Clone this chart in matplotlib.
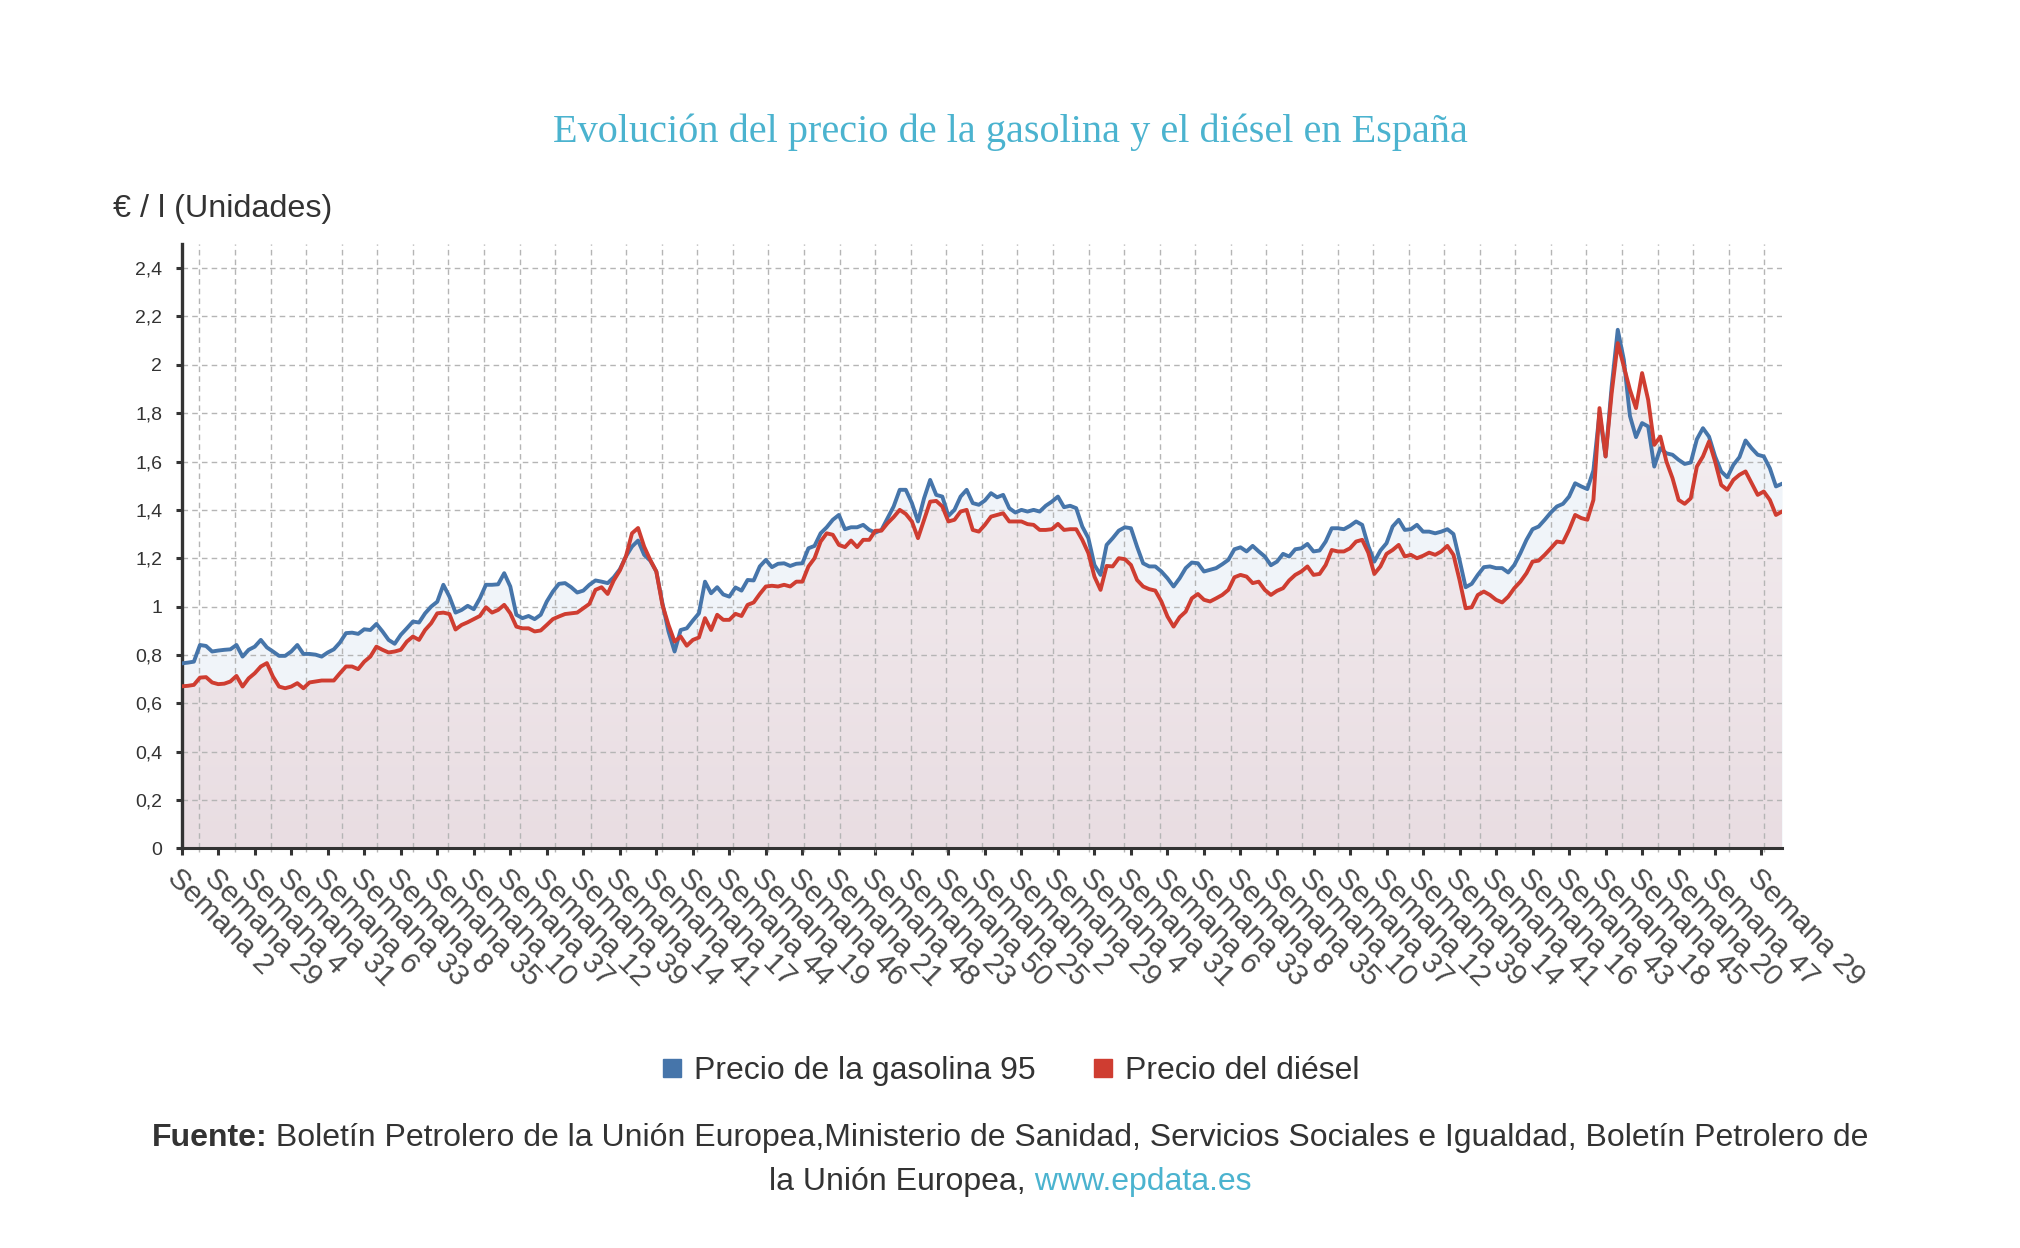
import numpy as np
import matplotlib
matplotlib.use('Agg')
import matplotlib.pyplot as plt
from matplotlib.colors import LinearSegmentedColormap
from matplotlib.lines import Line2D

# precios semanales (€/l), leidos cada 4,5 semanas
gasolina = [
    0.765, 0.768, 0.772, 0.841, 0.837, 0.814, 0.818, 0.821, 0.823, 0.841, 0.793, 0.821,
    0.834, 0.862, 0.831, 0.814, 0.796, 0.796, 0.814, 0.841, 0.804, 0.804, 0.801, 0.793,
    0.81, 0.823, 0.851, 0.89, 0.892, 0.887, 0.906, 0.903, 0.928, 0.897, 0.862, 0.846,
    0.883, 0.91, 0.938, 0.934, 0.972, 1.0, 1.02, 1.09, 1.041, 0.975, 0.986, 1.003,
    0.989, 1.034, 1.09, 1.09, 1.092, 1.138, 1.083, 0.966, 0.952, 0.961, 0.948, 0.966,
    1.021, 1.062, 1.094, 1.097, 1.08, 1.058, 1.066, 1.09, 1.108, 1.103, 1.097, 1.121,
    1.154, 1.207, 1.248, 1.273, 1.214, 1.19, 1.145, 1.014, 0.897, 0.814, 0.903, 0.91,
    0.942, 0.972, 1.103, 1.055, 1.08, 1.05, 1.041, 1.079, 1.066, 1.11, 1.108, 1.166,
    1.193, 1.163, 1.177, 1.179, 1.168, 1.177, 1.179, 1.241, 1.251, 1.303, 1.328, 1.359,
    1.379, 1.32, 1.328, 1.328, 1.338, 1.317, 1.306, 1.317, 1.366, 1.414, 1.483, 1.483,
    1.428, 1.352, 1.448, 1.524, 1.462, 1.455, 1.375, 1.4, 1.455, 1.483, 1.428, 1.421,
    1.439, 1.469, 1.452, 1.462, 1.407, 1.389, 1.4, 1.393, 1.4, 1.393, 1.417, 1.434,
    1.455, 1.411, 1.417, 1.407, 1.331, 1.283, 1.172, 1.131, 1.255, 1.283, 1.314, 1.328,
    1.324, 1.248, 1.179, 1.166, 1.166, 1.145, 1.117, 1.083, 1.117, 1.159, 1.182, 1.179,
    1.145, 1.152, 1.159, 1.175, 1.193, 1.237, 1.245, 1.228, 1.251, 1.228, 1.207, 1.171,
    1.186, 1.218, 1.207, 1.237, 1.241, 1.259, 1.228, 1.232, 1.269, 1.324, 1.324, 1.32,
    1.334, 1.352, 1.338, 1.251, 1.186, 1.232, 1.262, 1.331, 1.359, 1.317, 1.32, 1.338,
    1.31, 1.31, 1.303, 1.31, 1.32, 1.3, 1.193, 1.08, 1.094, 1.131, 1.163, 1.166,
    1.159, 1.159, 1.141, 1.172, 1.221, 1.276, 1.32, 1.331, 1.359, 1.389, 1.414, 1.425,
    1.455, 1.51, 1.497, 1.486, 1.563, 1.8, 1.621, 1.91, 2.145, 2.021, 1.789, 1.701,
    1.759, 1.745, 1.579, 1.655, 1.634, 1.628, 1.607, 1.59, 1.596, 1.692, 1.738, 1.703,
    1.621, 1.559, 1.535, 1.586, 1.618, 1.687, 1.655, 1.628, 1.621, 1.572, 1.497, 1.508,
]

diesel = [
    0.67, 0.672, 0.676, 0.706, 0.708, 0.686, 0.679, 0.681, 0.69, 0.713, 0.669, 0.703,
    0.724, 0.752, 0.766, 0.71, 0.669, 0.662, 0.669, 0.683, 0.662, 0.686, 0.69, 0.694,
    0.694, 0.694, 0.724, 0.752, 0.752, 0.741, 0.772, 0.793, 0.834, 0.821, 0.81, 0.814,
    0.821, 0.855, 0.876, 0.862, 0.903, 0.931, 0.972, 0.975, 0.969, 0.905, 0.924, 0.935,
    0.948, 0.961, 0.997, 0.975, 0.986, 1.007, 0.972, 0.917, 0.91, 0.91, 0.897, 0.901,
    0.924, 0.948, 0.959, 0.969, 0.972, 0.975, 0.993, 1.011, 1.069, 1.08, 1.052, 1.108,
    1.149, 1.207, 1.303, 1.325, 1.248, 1.193, 1.145, 1.007, 0.924, 0.855, 0.876, 0.838,
    0.862, 0.872, 0.952, 0.903, 0.966, 0.945, 0.945, 0.97, 0.961, 1.007, 1.017, 1.052,
    1.083, 1.086, 1.083, 1.09, 1.083, 1.103, 1.103, 1.166, 1.2, 1.269, 1.303, 1.297,
    1.255, 1.246, 1.273, 1.246, 1.276, 1.276, 1.314, 1.314, 1.345, 1.37, 1.4, 1.383,
    1.352, 1.283, 1.359, 1.434, 1.437, 1.414, 1.352, 1.359, 1.393, 1.4, 1.317, 1.31,
    1.338, 1.372, 1.379, 1.386, 1.352, 1.352, 1.352, 1.341, 1.338, 1.317, 1.317, 1.32,
    1.342, 1.317, 1.32, 1.32, 1.276, 1.221, 1.124, 1.069, 1.168, 1.166, 1.2, 1.196,
    1.172, 1.11, 1.083, 1.072, 1.066, 1.021, 0.959, 0.917, 0.956, 0.979, 1.034, 1.052,
    1.028, 1.021, 1.034, 1.048, 1.069, 1.121, 1.131, 1.124, 1.097, 1.103, 1.069, 1.048,
    1.065, 1.076, 1.108, 1.131, 1.145, 1.166, 1.131, 1.135, 1.172, 1.234, 1.228, 1.228,
    1.241, 1.269, 1.276, 1.223, 1.135, 1.166, 1.218, 1.234, 1.255, 1.207, 1.214, 1.2,
    1.21, 1.223, 1.214, 1.228, 1.251, 1.214, 1.11, 0.993, 0.997, 1.048, 1.062, 1.048,
    1.028, 1.017, 1.041, 1.076, 1.103, 1.138, 1.186, 1.19, 1.214, 1.241, 1.269, 1.265,
    1.317, 1.379, 1.366, 1.359, 1.441, 1.821, 1.621, 1.883, 2.09, 1.993, 1.897, 1.821,
    1.966, 1.855, 1.669, 1.703, 1.6, 1.531, 1.441, 1.425, 1.448, 1.579, 1.621, 1.683,
    1.6, 1.503, 1.483, 1.524, 1.545, 1.559, 1.51, 1.462, 1.476, 1.441, 1.379, 1.393,
]

etiquetas = [
    'Semana 2', 'Semana 29', 'Semana 4', 'Semana 31', 'Semana 6', 'Semana 33',
    'Semana 8', 'Semana 35', 'Semana 10', 'Semana 37', 'Semana 12', 'Semana 39',
    'Semana 14', 'Semana 41', 'Semana 17', 'Semana 44', 'Semana 19', 'Semana 46',
    'Semana 21', 'Semana 48', 'Semana 23', 'Semana 50', 'Semana 25', 'Semana 2',
    'Semana 29', 'Semana 4', 'Semana 31', 'Semana 6', 'Semana 33', 'Semana 8',
    'Semana 35', 'Semana 10', 'Semana 37', 'Semana 12', 'Semana 39', 'Semana 14',
    'Semana 41', 'Semana 16', 'Semana 43', 'Semana 18', 'Semana 45', 'Semana 20',
    'Semana 47', 'Semana 29',
]

AZUL = '#4675aa'
ROJO = '#cf3d31'
CIAN = '#4bb3cf'
TEXTO = '#333333'

plt.rcParams['font.family'] = ['Liberation Sans', 'DejaVu Sans']

semanas = np.arange(len(gasolina)) * 4.5
x_max = semanas[-1]
pos_ticks = [27 * k for k in range(len(etiquetas) - 1)] + [1168]

fig = plt.figure(figsize=(20.2, 12.48), dpi=100)
ax = fig.add_axes([0.08995, 0.3203, 0.8822 - 0.08995, 0.8045 - 0.3203])

# areas
ax.fill_between(semanas, gasolina, 0, color='#f0f4f9', lw=0, zorder=0.5)
relleno = ax.fill_between(semanas, diesel, 0, color='none', lw=0)
cmap = LinearSegmentedColormap.from_list('relleno', ['#e9dde2', '#f6f1f3'])
grad = np.linspace(0, 1, 256).reshape(-1, 1)
img = ax.imshow(grad, extent=[0, x_max, 0, 2.2], origin='lower', aspect='auto',
                cmap=cmap, zorder=1)
img.set_clip_path(relleno.get_paths()[0], transform=ax.transData)

# rejilla
rejilla = (np.arange(45) + 0.5) * x_max / 45
for xv in rejilla:
    ax.axvline(xv, color='#b5b5b5', lw=1.0, ls=(0, (4, 3)), zorder=1.5)
for yv in np.arange(0, 2.41, 0.2):
    ax.axhline(yv, color='#b5b5b5', lw=1.0, ls=(0, (4, 3)), zorder=1.5)

ax.plot(semanas, gasolina, color=AZUL, lw=2.8, zorder=3, solid_joinstyle='round')
ax.plot(semanas, diesel, color=ROJO, lw=2.8, zorder=3.1, solid_joinstyle='round')

ax.set_xlim(0, x_max)
ax.set_ylim(0, 2.5)

ax.set_yticks(np.arange(0, 2.41, 0.2))
ax.set_yticklabels([('%g' % round(v, 1)).replace('.', ',') for v in np.arange(0, 2.41, 0.2)])
ax.set_xticks(pos_ticks)
ax.set_xticklabels(etiquetas, rotation=-45, ha='left', va='top', rotation_mode='anchor')
ax.set_xticks(rejilla, minor=True)

ax.tick_params(axis='y', length=4, width=2.2, color=TEXTO, labelsize=14,
               labelcolor=TEXTO, pad=10)
ax.tick_params(axis='x', which='major', length=5, width=2.2, color=TEXTO,
               labelsize=21.5, labelcolor='#4a4a4a', pad=6)
ax.tick_params(axis='x', which='minor', length=3, width=1, color='#b5b5b5')

for s in ['top', 'right']:
    ax.spines[s].set_visible(False)
ax.spines['left'].set_linewidth(2.4)
ax.spines['left'].set_color(TEXTO)
ax.spines['bottom'].set_linewidth(2.2)
ax.spines['bottom'].set_color(TEXTO)
ax.set_facecolor('white')

fig.text(0.5, 0.894, 'Evolución del precio de la gasolina y el diésel en España',
         ha='center', va='center', fontsize=29, color=CIAN, family='Liberation Serif')
fig.text(0.056, 0.8325, '€ / l (Unidades)', ha='left', va='center',
         fontsize=23.3, color=TEXTO)

handles = [
    Line2D([], [], marker='s', ls='none', color=AZUL, markersize=12.5),
    Line2D([], [], marker='s', ls='none', color=ROJO, markersize=12.5),
]
fig.legend(handles, ['Precio de la gasolina 95', 'Precio del diésel'], loc='center',
           bbox_to_anchor=(0.4965, 0.1415), ncol=2, frameon=False, fontsize=23,
           handletextpad=-0.1, handlelength=1.6, columnspacing=1.3, labelcolor=TEXTO)


def linea_centrada(y, partes):
    r = fig.canvas.get_renderer()
    textos = [fig.text(0, y, t, va='center', ha='left', fontsize=23, **p) for t, p in partes]
    anchos = [t.get_window_extent(r).width for t in textos]
    x = (fig.bbox.width - sum(anchos)) / 2
    for t, w in zip(textos, anchos):
        t.set_x(x / fig.bbox.width)
        x += w


linea_centrada(0.0885, [
    ('Fuente:', {'weight': 'bold', 'color': TEXTO}),
    (' Boletín Petrolero de la Unión Europea,Ministerio de Sanidad, Servicios Sociales '
     'e Igualdad, Boletín Petrolero de', {'color': TEXTO}),
])
linea_centrada(0.053, [
    ('la Unión Europea,', {'color': TEXTO}),
    (' www.epdata.es', {'color': CIAN}),
])

fig.savefig('out.png', dpi=100, facecolor='white')
